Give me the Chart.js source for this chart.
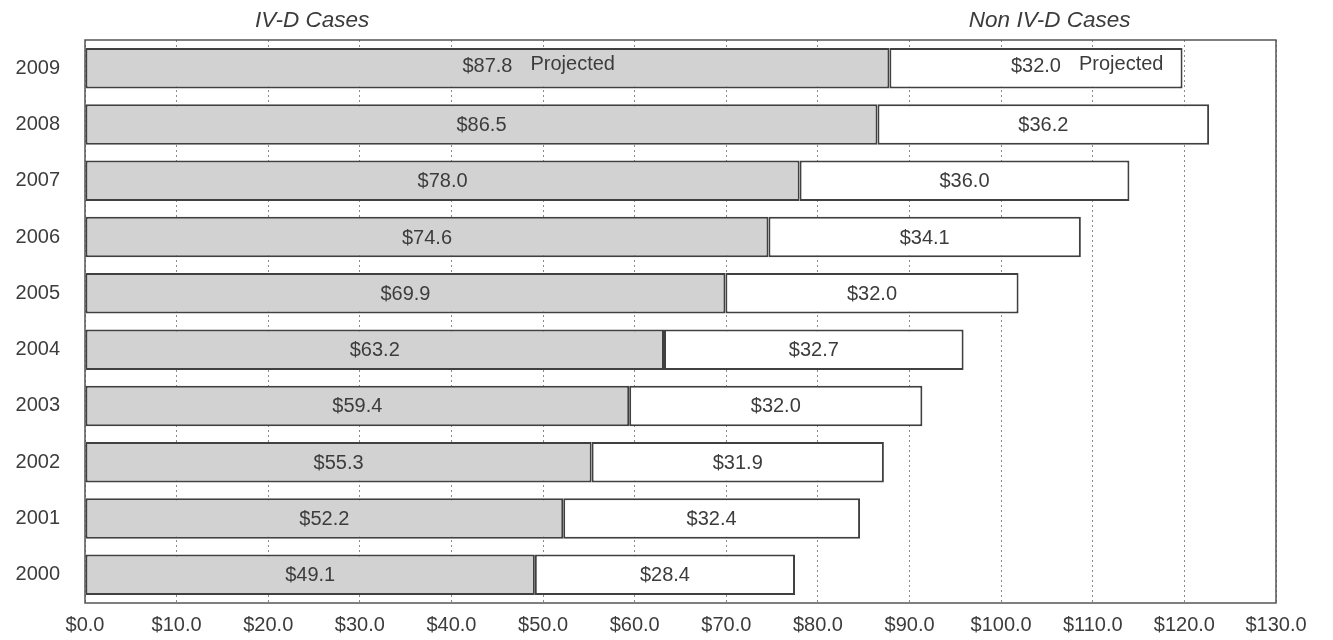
<!DOCTYPE html>
<html><head><meta charset="utf-8">
<script src="https://cdn.jsdelivr.net/npm/chart.js@4"></script>
<style>html,body{margin:0;padding:0;background:#fff;overflow:hidden}#wrap{width:1333px;height:640px}canvas{display:block}</style>
</head><body><div id="wrap"><canvas id="c" width="1333" height="640"></canvas></div>
<script>
const years = ['2000','2001','2002','2003','2004','2005','2006','2007','2008','2009'];
const ivdCases = [49.1, 52.2, 55.3, 59.4, 63.2, 69.9, 74.6, 78.0, 86.5, 87.8];
const nonIvdCases = [28.4, 32.4, 31.9, 32.0, 32.7, 32.0, 34.1, 36.0, 36.2, 32.0];
const projectedYears = ['2009'];
const projectedText = 'Projected';
const seriesNames = ['IV-D Cases', 'Non IV-D Cases'];
const seriesTitleAt = [24.8, 105.3];
const xMin = 0, xMax = 130, xStep = 10;

const FONT = '"Liberation Sans", Arial, sans-serif';
const TEXT = '#3c3c3c';

const frameAndLabels = {
  id: 'frameAndLabels',
  afterDatasetsDraw(chart) {
    const ctx = chart.ctx;
    const a = chart.chartArea;
    ctx.save();
    ctx.strokeStyle = '#555';
    ctx.lineWidth = 1.5;
    ctx.strokeRect(a.left, a.top, a.right - a.left, a.bottom - a.top);
    ctx.font = '20px ' + FONT;
    ctx.fillStyle = TEXT;
    ctx.textBaseline = 'middle';
    chart.data.datasets.forEach((ds, di) => {
      const meta = chart.getDatasetMeta(di);
      meta.data.forEach((bar, i) => {
        const cx = (bar.x + bar.base) / 2;
        const txt = '$' + ds.data[i].toFixed(1);
        const proj = projectedYears.includes(chart.data.labels[i]);
        const y = bar.y + (proj ? -2 : 1);
        ctx.textAlign = 'center';
        ctx.fillText(txt, cx, y);
        if (proj) {
          const w = ctx.measureText(txt).width;
          ctx.textAlign = 'left';
          ctx.fillText(projectedText, cx + w / 2 + 18, y - 2);
        }
      });
    });
    ctx.font = 'italic 22.5px ' + FONT;
    ctx.textAlign = 'center';
    ctx.fillStyle = TEXT;
    seriesNames.forEach((n, k) => {
      ctx.fillText(n, chart.scales.x.getPixelForValue(seriesTitleAt[k]), 21);
    });
    ctx.restore();
  }
};

new Chart(document.getElementById('c'), {
  type: 'bar',
  data: {
    labels: years,
    datasets: [
      { label: seriesNames[0], data: ivdCases, backgroundColor: '#d2d2d2', borderColor: '#404040', borderWidth: 2, borderSkipped: false },
      { label: seriesNames[1], data: nonIvdCases, backgroundColor: '#ffffff', borderColor: '#404040', borderWidth: 2, borderSkipped: false }
    ]
  },
  options: {
    indexAxis: 'y',
    responsive: false,
    animation: false,
    datasets: { bar: { categoryPercentage: 1.0, barPercentage: 0.72 } },
    layout: { padding: { top: 40, right: 57, left: 0, bottom: 0 } },
    plugins: { legend: { display: false }, tooltip: { enabled: false } },
    scales: {
      x: {
        stacked: true, min: xMin, max: xMax,
        afterFit(s) { s.height = 31; },
        ticks: { stepSize: xStep, padding: 10, color: TEXT, font: { family: FONT, size: 20 },
          maxRotation: 0, autoSkip: false,
          callback: v => '$' + Number(v).toFixed(1) },
        grid: { color: '#8a8a8a', lineWidth: 1, drawTicks: false },
        border: { display: false, dash: [2, 3] }
      },
      y: {
        stacked: true, reverse: true,
        afterFit(s) { s.width = 85; },
        ticks: { padding: 25, color: TEXT, font: { family: FONT, size: 20 } },
        grid: { display: false, drawTicks: false },
        border: { display: false }
      }
    }
  },
  plugins: [frameAndLabels]
});
</script>
</body></html>
